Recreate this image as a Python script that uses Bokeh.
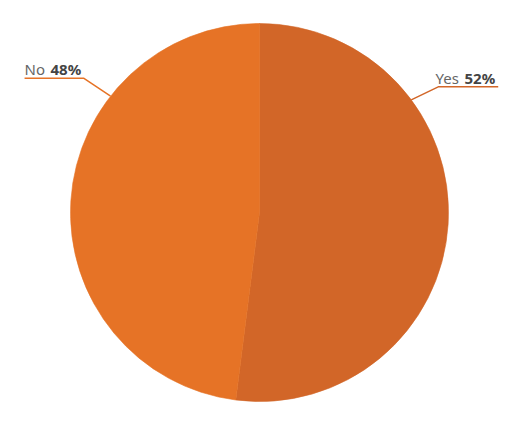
import math
from bokeh.plotting import figure
from bokeh.models import ColumnDataSource
from bokeh.core.properties import value
from bokeh.embed import file_html
from bokeh.resources import INLINE

categories = ["Yes", "No"]
values = [52, 48]
colors = ["#D26628", "#E67326"]

W, H = 511, 405
cx, cy, R = 259, 193, 189

p = figure(width=W, height=H, x_range=(0, W), y_range=(0, H),
           output_backend="svg", toolbar_location=None, min_border=0)
p.axis.visible = False
p.grid.visible = False
p.outline_line_color = None
p.background_fill_color = "white"

total = sum(values)
starts, ends = [], []
a = math.pi / 2
for v in values:
    starts.append(a - 2 * math.pi * v / total)
    ends.append(a)
    a -= 2 * math.pi * v / total

src = ColumnDataSource(dict(start=starts, end=ends, color=colors))
p.wedge(x=cx, y=cy, radius=R, start_angle="start", end_angle="end",
        fill_color="color", line_color="color", line_width=0.6, source=src)

# label geometry (styles)
anchor_deg = [36.6, 142]
elbow = [(27, 13), (-27, 18)]
hlen = [60, -59]
text_x = [435, 24]
pct_dx = [29, 26]
for i, cat in enumerate(categories):
    ang = math.radians(anchor_deg[i])
    x0 = cx + R * math.cos(ang)
    y0 = cy + R * math.sin(ang)
    x1 = x0 + elbow[i][0]
    y1 = y0 + elbow[i][1]
    x2 = x1 + hlen[i]
    p.line([x0, x1, x2], [y0, y1, y1], line_color=colors[i], line_width=1.5)
    pct = f"{round(values[i] / total * 100)}%"
    lx = text_x[i]
    p.text(x=[lx], y=[y1 + 9], text=[cat], text_font=value("Noto Sans"),
           text_font_size="15px", text_color="#666666", text_baseline="alphabetic")
    p.text(x=[lx + pct_dx[i]], y=[y1 + 9], text=[pct],
           text_font=value("Noto Sans"), text_font_size="15px", text_font_style="bold",
           text_color="#444444", text_baseline="alphabetic")

open("out.html", "w").write(file_html(p, INLINE))
